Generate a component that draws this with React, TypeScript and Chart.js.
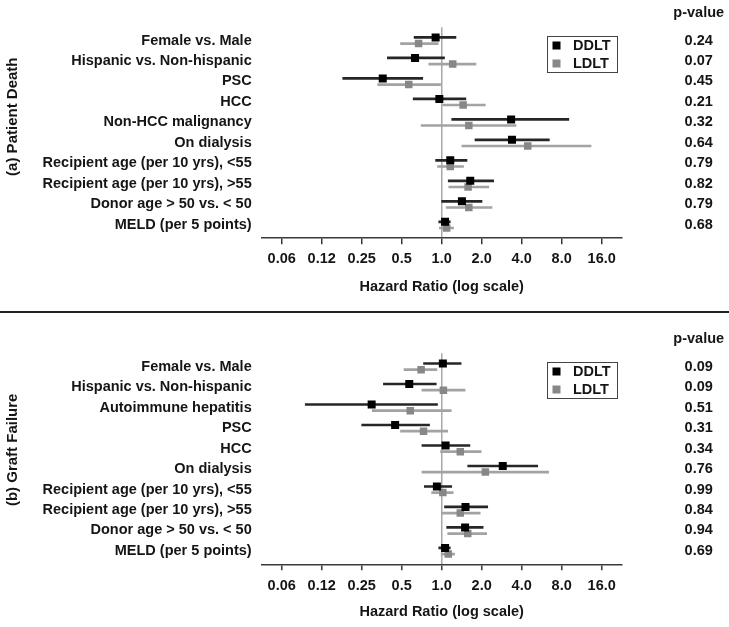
import React, { useEffect, useRef } from 'react';
import { Chart, registerables } from 'chart.js';

Chart.register(...registerables);

const FONT_FAMILY = '"Liberation Sans", Arial, Helvetica, sans-serif';
const TEXT_COLOR = '#151515';

const TICK_VALUES = [0.0625, 0.125, 0.25, 0.5, 1, 2, 4, 8, 16];
const TICK_LABELS = ['0.06', '0.12', '0.25', '0.5', '1.0', '2.0', '4.0', '8.0', '16.0'];
const SERIES_NAMES = ['DDLT', 'LDLT'];
const X_TITLE = 'Hazard Ratio (log scale)';
const P_HEADER = 'p-value';

// (a) Patient Death
const deathCategories = [
  'Female vs. Male',
  'Hispanic vs. Non-hispanic',
  'PSC',
  'HCC',
  'Non-HCC malignancy',
  'On dialysis',
  'Recipient age (per 10 yrs), <55',
  'Recipient age (per 10 yrs), >55',
  'Donor age > 50 vs. < 50',
  'MELD (per 5 points)',
];
const deathDdltHR = [0.9, 0.63, 0.36, 0.96, 3.33, 3.38, 1.16, 1.64, 1.42, 1.06];
const deathDdltLow = [0.62, 0.39, 0.18, 0.61, 1.19, 1.78, 0.9, 1.12, 1.0, 0.95];
const deathDdltHigh = [1.28, 1.05, 0.72, 1.52, 9.05, 6.46, 1.55, 2.46, 2.01, 1.16];
const deathLdltHR = [0.67, 1.21, 0.565, 1.45, 1.6, 4.44, 1.16, 1.58, 1.6, 1.09];
const deathLdltLow = [0.49, 0.8, 0.33, 1.02, 0.7, 1.42, 0.93, 1.13, 1.08, 0.96];
const deathLdltHigh = [0.94, 1.81, 0.98, 2.13, 3.63, 13.3, 1.46, 2.26, 2.39, 1.23];
const deathPValues = ['0.24', '0.07', '0.45', '0.21', '0.32', '0.64', '0.79', '0.82', '0.79', '0.68'];

// (b) Graft Failure
const graftCategories = [
  'Female vs. Male',
  'Hispanic vs. Non-hispanic',
  'Autoimmune hepatitis',
  'PSC',
  'HCC',
  'On dialysis',
  'Recipient age (per 10 yrs), <55',
  'Recipient age (per 10 yrs), >55',
  'Donor age > 50 vs. < 50',
  'MELD (per 5 points)',
];
const graftDdltHR = [1.02, 0.57, 0.297, 0.446, 1.07, 2.88, 0.92, 1.51, 1.5, 1.06];
const graftDdltLow = [0.73, 0.364, 0.094, 0.25, 0.71, 1.57, 0.74, 1.05, 1.09, 0.95];
const graftDdltHigh = [1.4, 0.91, 0.93, 0.81, 1.63, 5.28, 1.19, 2.22, 2.05, 1.16];
const graftLdltHR = [0.7, 1.03, 0.58, 0.73, 1.38, 2.13, 1.02, 1.38, 1.57, 1.12];
const graftLdltLow = [0.52, 0.71, 0.3, 0.49, 0.98, 0.71, 0.84, 1.0, 1.11, 0.99];
const graftLdltHigh = [0.92, 1.5, 1.18, 1.11, 1.98, 6.38, 1.22, 1.95, 2.18, 1.25];
const graftPValues = ['0.09', '0.09', '0.51', '0.31', '0.34', '0.76', '0.99', '0.84', '0.94', '0.69'];

const ROW_OFFSET = 0.15;
const DDLT_COLOR = '#000000';
const DDLT_LINE = '#262626';
const LDLT_COLOR = '#878787';
const LDLT_LINE = '#a3a3a3';

const extrasPlugin = {
  id: 'forestExtras',
  afterDraw(chart: any, _args: any, opts: any) {
    const { ctx, chartArea } = chart;
    const yScale = chart.scales.y;
    ctx.save();
    ctx.font = `bold 14.5px ${FONT_FAMILY}`;
    ctx.fillStyle = TEXT_COLOR;
    ctx.textAlign = 'center';
    ctx.textBaseline = 'middle';
    const px = chartArea.right + 77;
    ctx.fillText(P_HEADER, px, chartArea.top - 14);
    (opts.pValues as string[]).forEach((p, i) => {
      ctx.fillText(p, px, yScale.getPixelForValue(i));
    });
    // legend box
    const bw = 70;
    const bh = 36;
    const bx = Math.round(chartArea.right - 74.5) + 0.5;
    const by = Math.round(chartArea.top + 8.5) + 0.5;
    ctx.strokeStyle = '#444';
    ctx.lineWidth = 1;
    ctx.strokeRect(bx, by, bw, bh);
    const items = chart.data.datasets.filter((d: any) => d.type === 'scatter');
    items.forEach((d: any, k: number) => {
      const cy = by + 9 + k * 18;
      ctx.fillStyle = d.backgroundColor;
      ctx.fillRect(bx + 5, cy - 4, 8, 8);
      ctx.fillStyle = TEXT_COLOR;
      ctx.textAlign = 'left';
      ctx.fillText(d.label, bx + 25.5, cy + 0.5);
    });
    // rotated panel title
    ctx.save();
    ctx.font = `bold 15px ${FONT_FAMILY}`;
    ctx.textAlign = 'center';
    ctx.textBaseline = 'middle';
    ctx.translate(opts.sideX, (chartArea.top + chartArea.bottom) / 2 + opts.sideShift);
    ctx.rotate(-Math.PI / 2);
    ctx.fillText(opts.sideTitle, 0, 0);
    ctx.restore();
    ctx.restore();
  },
};

type PanelProps = {
  title: string;
  categories: string[];
  ddlt: number[][];
  ldlt: number[][];
  pValues: string[];
  width: number;
  height: number;
  areaTop: number;
  areaHeight: number;
  titlePad: number;
  sideShift: number;
};

function ForestPanel(props: PanelProps) {
  const ref = useRef<HTMLCanvasElement | null>(null);
  useEffect(() => {
    if (!ref.current) return;
    const { categories, ddlt, ldlt } = props;
    const [dHR, dLo, dHi] = ddlt;
    const [lHR, lLo, lHi] = ldlt;
    const font = { family: FONT_FAMILY, size: 14.5, weight: 'bold' as const };
    const chart = new Chart(ref.current, {
      type: 'bar',
      data: {
        datasets: [
          {
            type: 'scatter',
            label: SERIES_NAMES[0],
            data: categories.map((_, i) => ({ x: dHR[i], y: i - ROW_OFFSET })),
            backgroundColor: DDLT_COLOR,
            borderColor: DDLT_COLOR,
            pointStyle: 'rect',
            pointRadius: 5.66,
            pointBorderWidth: 0,
            order: 0,
          } as any,
          {
            type: 'scatter',
            label: SERIES_NAMES[1],
            data: categories.map((_, i) => ({ x: lHR[i], y: i + ROW_OFFSET })),
            backgroundColor: LDLT_COLOR,
            borderColor: LDLT_COLOR,
            pointStyle: 'rect',
            pointRadius: 5.3,
            pointBorderWidth: 0,
            order: 1,
          } as any,
          {
            type: 'bar',
            label: SERIES_NAMES[0] + ' 95% CI',
            data: categories.map((_, i) => ({ x: [dLo[i], dHi[i]], y: i - ROW_OFFSET })),
            backgroundColor: DDLT_LINE,
            borderWidth: 0,
            grouped: false,
            barThickness: 2,
            order: 2,
          } as any,
          {
            type: 'bar',
            label: SERIES_NAMES[1] + ' 95% CI',
            data: categories.map((_, i) => ({ x: [lLo[i], lHi[i]], y: i + ROW_OFFSET })),
            backgroundColor: LDLT_LINE,
            borderWidth: 0,
            grouped: false,
            barThickness: 2,
            order: 3,
          } as any,
        ],
      },
      options: {
        indexAxis: 'y',
        responsive: false,
        animation: false,
        events: [],
        layout: { padding: { top: props.areaTop, left: 0, right: props.width - 621.7, bottom: 0 } },
        plugins: {
          legend: { display: false },
          tooltip: { enabled: false },
          forestExtras: { pValues: props.pValues, sideTitle: props.title, sideX: 13, sideShift: props.sideShift },
        } as any,
        scales: {
          x: {
            type: 'logarithmic',
            min: Math.pow(2, -4.5),
            max: Math.pow(2, 4.5),
            afterBuildTicks: (scale: any) => {
              scale.ticks = TICK_VALUES.map((v) => ({ value: v }));
            },
            afterFit: (scale: any) => {
              scale.height = props.height - props.areaTop - props.areaHeight;
            },
            ticks: {
              autoSkip: false,
              maxRotation: 0,
              padding: 6.5,
              color: TEXT_COLOR,
              font,
              callback: (_v: any, index: number) => TICK_LABELS[index],
            },
            grid: {
              display: true,
              drawOnChartArea: true,
              drawTicks: true,
              tickLength: 6,
              tickColor: '#3a3a3a',
              tickWidth: 1.5,
              color: (c: any) => (c.tick && c.tick.value === 1 ? '#a8a8a8' : 'rgba(0,0,0,0)'),
              lineWidth: 1.5,
            },
            border: { display: true, color: '#3a3a3a', width: 1.5 },
            title: {
              display: true,
              text: X_TITLE,
              color: TEXT_COLOR,
              font,
              padding: { top: 0, bottom: props.titlePad },
            },
          },
          y: {
            type: 'linear',
            reverse: true,
            offset: false,
            min: -0.65,
            max: categories.length - 1 + 0.65,
            afterBuildTicks: (scale: any) => {
              scale.ticks = categories.map((_, i) => ({ value: i }));
            },
            afterFit: (scale: any) => {
              scale.width = 261.7;
            },
            ticks: {
              autoSkip: false,
              padding: 10,
              color: TEXT_COLOR,
              font,
              callback: (_v: any, index: number) => categories[index],
            },
            grid: { display: false, drawTicks: false, offset: false },
            border: { display: false },
          },
        },
      } as any,
      plugins: [extrasPlugin],
    });
    return () => chart.destroy();
  }, []);
  return <canvas ref={ref} width={props.width} height={props.height} style={{ display: 'block' }} />;
}

export default function App() {
  return (
    <div
      style={{
        position: 'fixed',
        left: 0,
        top: 0,
        width: 729,
        height: 627,
        background: '#fff',
        overflow: 'hidden',
      }}
    >
      <div style={{ position: 'absolute', left: 0, top: 0 }}>
        <ForestPanel
          title="(a) Patient Death"
          categories={deathCategories}
          ddlt={[deathDdltHR, deathDdltLow, deathDdltHigh]}
          ldlt={[deathLdltHR, deathLdltLow, deathLdltHigh]}
          pValues={deathPValues}
          width={729}
          height={312}
          areaTop={27.2}
          areaHeight={211}
          titlePad={16.6}
          sideShift={-16}
        />
      </div>
      <div style={{ position: 'absolute', left: 0, top: 311, width: 729, height: 2, background: '#222' }} />
      <div style={{ position: 'absolute', left: 0, top: 314 }}>
        <ForestPanel
          title="(b) Graft Failure"
          categories={graftCategories}
          ddlt={[graftDdltHR, graftDdltLow, graftDdltHigh]}
          ldlt={[graftLdltHR, graftLdltLow, graftLdltHigh]}
          pValues={graftPValues}
          width={729}
          height={313}
          areaTop={39.3}
          areaHeight={211}
          titlePad={6.6}
          sideShift={-9}
        />
      </div>
    </div>
  );
}
